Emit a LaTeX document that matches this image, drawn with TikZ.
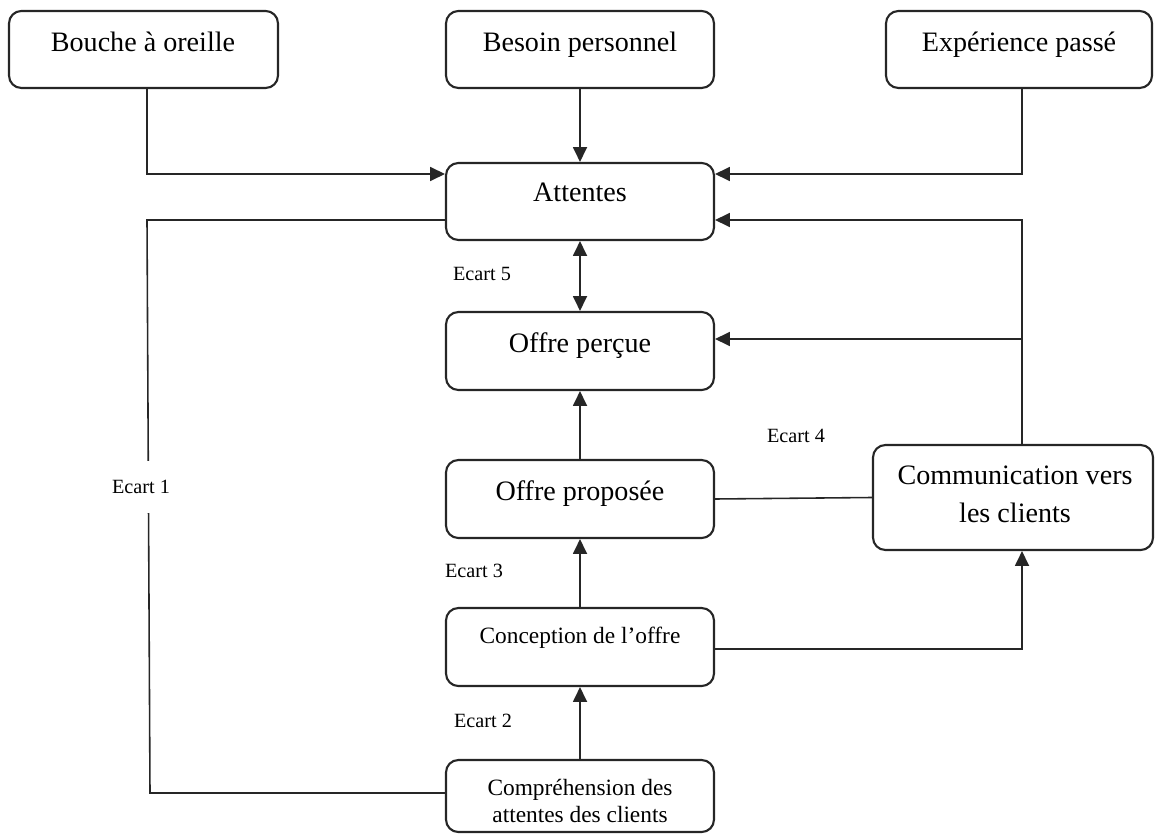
\documentclass[tikz,border=0pt]{standalone}
\usepackage{fontspec}
\setmainfont{Liberation Serif}
\usetikzlibrary{arrows.meta}
\begin{document}
\begin{tikzpicture}[x=0.02cm,y=-0.02cm,
 box/.style={draw=black!85, line width=1.2pt, rounded corners=7pt, inner sep=0pt},
 conn/.style={draw=black!85, line width=0.9pt},
 arr/.style={conn, -{Triangle[length=8.5pt,width=8pt]}},
 darr/.style={conn, {Triangle[length=8.5pt,width=8pt]}-{Triangle[length=8.5pt,width=8pt]}},
 big/.style={font=\fontsize{16}{21.5}\selectfont, inner sep=0pt, text=black},
 mid/.style={font=\fontsize{13.3}{15.9}\selectfont, inner sep=0pt, text=black},
 small/.style={font=\fontsize{11.5}{13}\selectfont, inner sep=1pt, text=black}]
\useasboundingbox (0,0) rectangle (1155,834);

% boxes
\node[box, minimum width=5.38cm, minimum height=1.54cm] (bouche) at (143.5,49.5) {};
\node[box, minimum width=5.36cm, minimum height=1.54cm] (besoin) at (580,49.5) {};
\node[box, minimum width=5.32cm, minimum height=1.54cm] (experience) at (1019,49.5) {};
\node[box, minimum width=5.36cm, minimum height=1.54cm] (attentes) at (580,201.5) {};
\node[box, minimum width=5.36cm, minimum height=1.56cm] (percue) at (580,351) {};
\node[box, minimum width=5.36cm, minimum height=1.56cm] (proposee) at (580,499) {};
\node[box, minimum width=5.6cm, minimum height=2.1cm] (comm) at (1013,497.5) {};
\node[box, minimum width=5.36cm, minimum height=1.56cm] (conception) at (580,647) {};
\node[box, minimum width=5.36cm, minimum height=1.44cm] (compr) at (580,796) {};

% texts
\node[big, anchor=base] (tbouche) at (143,52) {Bouche à oreille};
\node[big, anchor=base] (tbesoin) at (580,52) {Besoin personnel};
\node[big, anchor=base] (texp) at (1019,52) {Expérience passé};
\node[big, anchor=base] (tatt) at (580,202) {Attentes};
\node[big, anchor=base] (tper) at (580,352) {Offre perçue};
\node[big, anchor=base] (tpro) at (580,500) {Offre proposée};
\node[big, align=center] (tcomm) at (1015,494.5) {Communication vers\\les clients};
\node[mid, anchor=base] (tcon) at (580,643) {Conception de l’offre};
\node[mid, align=center] (tcompr) at (580,801) {Compréhension des\\attentes des clients};

% helper coordinates
\coordinate (xb) at (147,0);
\coordinate (xl) at (150,0);
\coordinate (xc) at (1022,0);
\coordinate (ya) at (0,174);
\coordinate (yb) at (0,220);
\coordinate (yp) at (0,339);
\coordinate (yl) at (0,793);
\coordinate (yk) at (0,649);

% connectors
\draw[arr] (bouche.south -| xb) |- (attentes.west |- ya);
\draw[arr] (besoin.south) -- (attentes.north);
\draw[arr] (experience.south -| xc) |- (attentes.east |- ya);
\draw[conn] (attentes.west |- yb) -- (xb |- yb) -- (xl |- yl) -- (compr.west |- yl);
\draw[darr] (attentes.south) -- (percue.north);
\draw[arr] (proposee.north) -- (percue.south);
\draw[arr] (comm.north -| xc) |- (attentes.east |- yb);
\draw[arr] (xc |- yp) -- (percue.east |- yp);
\draw[conn] (proposee.east) -- (comm.west);
\draw[arr] (conception.north) -- (proposee.south);
\draw[arr] (conception.east |- yk) -| (comm.south -| xc);
\draw[arr] (compr.north) -- (conception.south);

% gap labels
\node[small, fill=white, inner xsep=2pt, inner ysep=11pt] (e1) at (141,487) {Ecart 1};
\node[small, anchor=base] (e2) at (483,727) {Ecart 2};
\node[small, anchor=base] (e3) at (474,577) {Ecart 3};
\node[small, anchor=base] (e4) at (796,442) {Ecart 4};
\node[small, anchor=base] (e5) at (482,280) {Ecart 5};
\end{tikzpicture}
\end{document}
